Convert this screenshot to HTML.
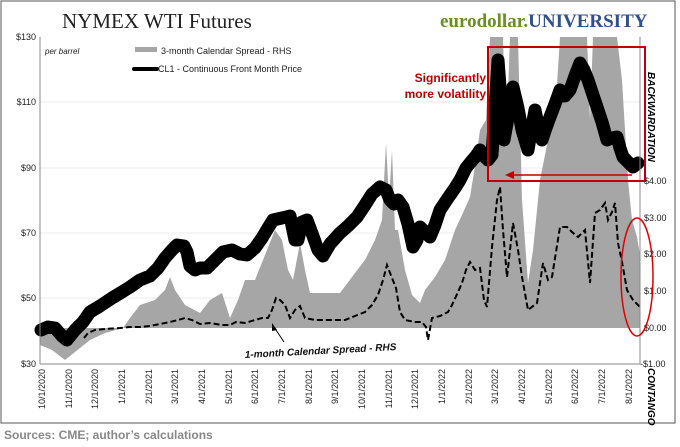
<!DOCTYPE html><html><head><style>body{margin:0;background:#fff;width:680px;height:442px;overflow:hidden;font-family:"Liberation Sans",sans-serif}</style></head><body>
<svg width="680" height="442" xmlns="http://www.w3.org/2000/svg" font-family="Liberation Sans, sans-serif">
<rect x="1" y="1" width="674" height="422" fill="#fff" stroke="#555" stroke-width="1"/>
<text x="62" y="28" font-family="Liberation Serif, serif" font-size="21" fill="#222">NYMEX WTI Futures</text>
<text x="440" y="27" font-family="Liberation Serif, serif" font-size="19" font-weight="bold" fill="#6b8e23">eurodollar.<tspan fill="#2f4f8f">UNIVERSITY</tspan></text>
<g stroke="#eee" stroke-width="1"><line x1="40" y1="102" x2="640" y2="102"/><line x1="40" y1="168" x2="640" y2="168"/><line x1="40" y1="233" x2="640" y2="233"/><line x1="40" y1="298" x2="640" y2="298"/></g>
<!-- gray area -->
<polygon fill="#a6a6a6" points="40,328 40,345 52,350 65,360 75,352 90,340 105,333 123,328 130,318 140,305 155,300 165,290 170,277 175,290 185,305 200,313 210,300 222,293 230,318 238,300 245,280 255,280 265,255 275,230 282,240 288,270 293,280 300,243 305,270 310,293 325,293 340,293 355,273 365,260 375,240 382,220 386,143 389,200 392,150 395,230 398,230 405,270 412,295 420,303 425,290 435,277 445,260 455,230 462,215 470,197 476,160 480,130 486,120 490,37 503,37 506,150 510,37 518,37 522,200 528,283 533,250 540,180 548,140 556,100 560,37 587,37 590,120 593,37 617,37 622,80 628,180 632,220 637,237 640,255 640,328"/>
<!-- dashed 1-month -->
<polyline fill="none" stroke="#000" stroke-width="2" stroke-dasharray="6,3" points="84,338 88,333 95,330 105,329 120,328 130,327 140,327 150,326 160,324 170,322 178,320 185,318 192,320 200,324 210,323 222,325 230,325 236,322 245,323 255,320 262,318 268,318 272,310 276,298 280,300 285,305 290,318 295,310 300,306 305,318 315,320 330,320 345,320 355,316 365,312 372,305 378,295 383,280 387,265 392,278 396,288 400,312 405,320 415,322 422,322 426,327 428,340 432,318 440,316 448,312 452,305 458,292 462,283 466,270 470,262 475,270 480,268 484,300 487,307 492,247 497,200 500,187 503,230 507,277 513,223 518,250 522,277 528,310 537,303 543,263 548,280 552,277 560,227 567,227 572,232 578,237 585,230 590,283 595,213 600,210 605,203 608,220 612,212 615,203 618,243 622,262 627,290 633,300 640,307"/>
<!-- price line -->
<polyline fill="none" stroke="#000" stroke-width="13" stroke-linejoin="round" stroke-linecap="round" points="41,330 48,327 55,328 62,336 67,340 75,330 83,322 90,312 100,306 112,298 122,292 130,287 140,280 150,276 158,268 165,258 172,250 177,245 184,246 187,252 190,266 195,270 200,268 207,268 215,260 223,252 232,250 240,254 247,255 255,248 262,238 268,228 273,220 282,218 290,216 295,240 298,240 302,222 307,220 313,236 318,250 323,256 330,244 340,233 348,226 357,217 365,205 372,194 380,187 386,190 390,200 394,204 398,200 403,207 408,224 413,247 417,240 420,227 425,232 430,237 435,225 440,210 448,198 455,188 460,180 466,168 470,163 476,156 480,150 484,156 488,160 492,155 495,110 498,60 501,100 504,140 508,118 513,87 518,108 522,130 528,150 531,132 535,110 538,125 542,140 546,128 550,117 555,104 560,90 565,96 570,90 575,76 580,63 584,70 588,80 592,92 597,107 602,122 607,140 612,138 617,137 620,148 623,157 628,162 633,167 638,163"/>
<line x1="40" y1="37" x2="40" y2="364" stroke="#888"/>
<line x1="640" y1="37" x2="640" y2="364" stroke="#888"/>
<line x1="40" y1="364" x2="640" y2="364" stroke="#888"/>
<g font-size="9" fill="#222" text-anchor="end">
<text x="36" y="40">$130</text><text x="36" y="105">$110</text><text x="36" y="171">$90</text><text x="36" y="236">$70</text><text x="36" y="301">$50</text><text x="36" y="367">$30</text></g>
<g font-size="9" fill="#222"><text x="644" y="184">$4.00</text><text x="644" y="221">$3.00</text><text x="644" y="257">$2.00</text><text x="644" y="294">$1.00</text><text x="644" y="331">$0.00</text><text x="640" y="367">-$1.00</text></g>
<g font-size="9" fill="#222" text-anchor="end">
<text transform="translate(45,369) rotate(-90)">10/1/2020</text><text transform="translate(72,369) rotate(-90)">11/1/2020</text><text transform="translate(98,369) rotate(-90)">12/1/2020</text><text transform="translate(125,369) rotate(-90)">1/1/2021</text><text transform="translate(152,369) rotate(-90)">2/1/2021</text><text transform="translate(178,369) rotate(-90)">3/1/2021</text><text transform="translate(205,369) rotate(-90)">4/1/2021</text><text transform="translate(232,369) rotate(-90)">5/1/2021</text><text transform="translate(258,369) rotate(-90)">6/1/2021</text><text transform="translate(285,369) rotate(-90)">7/1/2021</text><text transform="translate(312,369) rotate(-90)">8/1/2021</text><text transform="translate(338,369) rotate(-90)">9/1/2021</text><text transform="translate(365,369) rotate(-90)">10/1/2021</text><text transform="translate(392,369) rotate(-90)">11/1/2021</text><text transform="translate(418,369) rotate(-90)">12/1/2021</text><text transform="translate(445,369) rotate(-90)">1/1/2022</text><text transform="translate(472,369) rotate(-90)">2/1/2022</text><text transform="translate(498,369) rotate(-90)">3/1/2022</text><text transform="translate(525,369) rotate(-90)">4/1/2022</text><text transform="translate(552,369) rotate(-90)">5/1/2022</text><text transform="translate(578,369) rotate(-90)">6/1/2022</text><text transform="translate(605,369) rotate(-90)">7/1/2022</text><text transform="translate(632,369) rotate(-90)">8/1/2022</text></g>
<text transform="translate(648,72) rotate(90)" font-size="10" font-weight="bold" font-style="italic">BACKWARDATION</text>
<text transform="translate(648,368) rotate(90)" font-size="10" font-weight="bold" font-style="italic">CONTANGO</text>
<text x="45" y="54" font-size="8" font-style="italic" fill="#222">per barrel</text>
<rect x="135" y="47" width="22" height="5" fill="#a6a6a6"/>
<text x="161" y="54" font-size="9" fill="#222">3-month Calendar Spread - RHS</text>
<line x1="134" y1="69" x2="157" y2="69" stroke="#000" stroke-width="4" stroke-linecap="round"/>
<text x="158" y="72" font-size="9" fill="#222">CL1 - Continuous Front Month Price</text>
<rect x="488" y="47" width="157" height="134" fill="none" stroke="#c00000" stroke-width="2"/>
<line x1="632" y1="175" x2="512" y2="175" stroke="#c00000" stroke-width="1.5"/>
<polygon points="505,175 514,171 514,179" fill="#c00000"/>
<text x="486" y="82" font-size="12" font-weight="bold" fill="#c00000" text-anchor="end">Significantly</text>
<text x="486" y="98" font-size="12" font-weight="bold" fill="#c00000" text-anchor="end">more volatility</text>
<ellipse cx="637" cy="277" rx="16" ry="59" fill="none" stroke="#e00000" stroke-width="1.5"/>
<line x1="284" y1="342" x2="274" y2="327" stroke="#000"/><polygon points="272,323 277,330 272,331" fill="#000"/>
<text x="245" y="358" font-size="10" font-weight="bold" font-style="italic" fill="#111" transform="rotate(-3 245 358)">1-month Calendar  Spread - RHS</text>
<text x="4" y="439" font-size="12" font-weight="bold" fill="#888">Sources: CME; author’s calculations</text>
</svg></body></html>
